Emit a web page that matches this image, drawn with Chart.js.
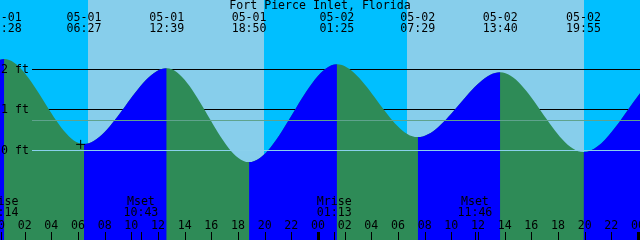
<!DOCTYPE html>
<html>
<head>
<meta charset="utf-8">
<script src="https://cdn.jsdelivr.net/npm/chart.js@4.4.1/dist/chart.umd.min.js"></script>
<style>
  html, body { margin: 0; padding: 0; background: #87ceeb; }
  #tide { display: block; }
</style>
</head>
<body>
<canvas id="tide" width="640" height="240"></canvas>
<script>
var stationName = 'Fort Pierce Inlet, Florida';

// tide highs and lows (the first two and last two lie outside the chart)
var tideDays  = [-1, -1, 0, 0, 0, 0, 1, 1, 1, 1, 2, 2];
var tideDates = ['04-30', '04-30', '05-01', '05-01', '05-01', '05-01', '05-02', '05-02', '05-02', '05-02', '05-03', '05-03'];
var tideTimes = ['12:00', '18:10', '00:28', '06:27', '12:39', '18:50', '01:25', '07:29', '13:40', '19:55', '02:30', '08:40'];
var tideFeet  = [2.10, -0.15, 2.25, 0.14, 2.02, -0.31, 2.12, 0.31, 1.92, -0.06, 2.00, 0.25];

// sunrise / sunset pairs
var sunDays  = [0, 0, 1, 1];
var sunTimes = ['06:45', '19:57', '06:41', '19:57'];

// moon events
var moonNames = ['Mrise', 'Mset', 'Mrise', 'Mset'];
var moonDays  = [0, 0, 1, 1];
var moonTimes = ['00:14', '10:43', '01:13', '11:46'];

var hourTicks = [0, 2, 4, 6, 8, 10, 12, 14, 16, 18, 20, 22, 24, 26, 28, 30, 32, 34, 36, 38, 40, 42, 44, 46, 48];
var footLevels = [2, 1, 0];
var meanLevel = 0.73;
var nowDay = 0, nowTime = '06:12', nowFeet = 0.13;

var nightColor = '#00bfff', dayColor = '#87ceeb';
var risingColor = '#0000ff', fallingColor = '#2e8b57';
var font = '11.6px "DejaVu Sans Mono", monospace';

function hrs(day, t) {
    var p = t.split(':');
    return day * 24 + Number(p[0]) + Number(p[1]) / 60;
}

var tidePoints = [];
for (var i = 0; i < tideTimes.length; i++) {
    tidePoints.push({x: hrs(tideDays[i], tideTimes[i]), y: tideFeet[i]});
}

// sky, grid lines and all the text
var tidePlugin = {
    id: 'tideDeco',
    beforeDraw: function (chart) {
        var ctx = chart.ctx, xs = chart.scales.x;
        ctx.save();
        ctx.fillStyle = nightColor;
        ctx.fillRect(0, 0, chart.width, chart.height);
        ctx.fillStyle = dayColor;
        for (var i = 0; i < sunTimes.length; i += 2) {
            var x0 = Math.round(xs.getPixelForValue(hrs(sunDays[i], sunTimes[i])));
            var x1 = Math.round(xs.getPixelForValue(hrs(sunDays[i + 1], sunTimes[i + 1])));
            ctx.fillRect(x0, 0, x1 - x0, chart.height);
        }
        ctx.restore();
    },
    beforeDatasetsDraw: function (chart) {
        var ctx = chart.ctx, ys = chart.scales.y;
        ctx.save();
        ctx.strokeStyle = '#000';
        ctx.lineWidth = 1;
        footLevels.forEach(function (f) {
            if (f === 0) return;
            var y = Math.round(ys.getPixelForValue(f)) + 0.5;
            ctx.beginPath();
            ctx.moveTo(32, y);
            ctx.lineTo(chart.width, y);
            ctx.stroke();
        });
        ctx.restore();
    },
    afterDatasetsDraw: function (chart) {
        var ctx = chart.ctx, xs = chart.scales.x, ys = chart.scales.y;
        var i, x, y;
        ctx.save();
        ctx.lineWidth = 1;

        // mean level and datum
        y = Math.round(ys.getPixelForValue(meanLevel)) + 0.5;
        ctx.strokeStyle = '#5fa38d';
        ctx.beginPath(); ctx.moveTo(32, y); ctx.lineTo(chart.width, y); ctx.stroke();
        y = Math.round(ys.getPixelForValue(0)) + 0.5;
        ctx.strokeStyle = '#8ad0ec';
        ctx.beginPath(); ctx.moveTo(32, y); ctx.lineTo(chart.width, y); ctx.stroke();

        ctx.font = font;
        ctx.fillStyle = '#000';
        ctx.textBaseline = 'middle';

        // foot labels
        ctx.textAlign = 'left';
        footLevels.forEach(function (f) {
            ctx.fillText(f + ' ft', 1, Math.round(ys.getPixelForValue(f)) + 0.5);
        });

        ctx.textAlign = 'center';
        ctx.fillText(stationName, 320, 6);

        // tide times along the top
        for (i = 0; i < tideTimes.length; i++) {
            x = xs.getPixelForValue(hrs(tideDays[i], tideTimes[i]));
            ctx.fillText(tideDates[i], x, 18);
            ctx.fillText(tideTimes[i], x, 29);
        }

        // moon events
        for (i = 0; i < moonTimes.length; i++) {
            x = xs.getPixelForValue(hrs(moonDays[i], moonTimes[i]));
            ctx.fillText(moonNames[i], x, 202);
            ctx.fillText(moonTimes[i], x, 213);
            ctx.fillRect(Math.round(x), 232, 1, 8);
        }

        // hour axis
        hourTicks.forEach(function (h) {
            var px = xs.getPixelForValue(h);
            var hh = h % 24;
            ctx.fillText((hh < 10 ? '0' : '') + hh, px, 226);
            if (hh === 0) {
                ctx.fillRect(Math.round(px) - 1, 232, 3, 8);
            } else {
                ctx.fillRect(Math.round(px), 232, 1, 8);
            }
        });
        ctx.restore();
    }
};

new Chart(document.getElementById('tide'), {
    type: 'line',
    data: {
        datasets: [{
            type: 'scatter',
            data: [{x: hrs(nowDay, nowTime), y: nowFeet}],
            pointStyle: 'cross',
            pointRadius: 4.5,
            borderColor: '#000',
            borderWidth: 1
        }, {
            // rising water, laid over the falling colour below
            data: tidePoints,
            fill: 'start',
            borderWidth: 0,
            borderColor: 'rgba(0,0,0,0)',
            backgroundColor: risingColor,
            pointRadius: 0,
            cubicInterpolationMode: 'monotone',
            segment: {
                backgroundColor: function (c) {
                    return c.p1.parsed.y > c.p0.parsed.y ? risingColor : 'rgba(0,0,0,0)';
                }
            }
        }, {
            data: tidePoints,
            fill: 'start',
            borderWidth: 0,
            borderColor: 'rgba(0,0,0,0)',
            backgroundColor: fallingColor,
            pointRadius: 0,
            cubicInterpolationMode: 'monotone'
        }]
    },
    options: {
        responsive: false,
        animation: false,
        devicePixelRatio: 1,
        layout: {padding: 0, autoPadding: false},
        events: [],
        plugins: {legend: {display: false}, tooltip: {enabled: false}},
        scales: {
            x: {type: 'linear', min: 0.15, max: 48.15, display: false},
            y: {type: 'linear', min: -2.243, max: 3.712, display: false}
        }
    },
    plugins: [tidePlugin]
});
</script>
</body>
</html>
